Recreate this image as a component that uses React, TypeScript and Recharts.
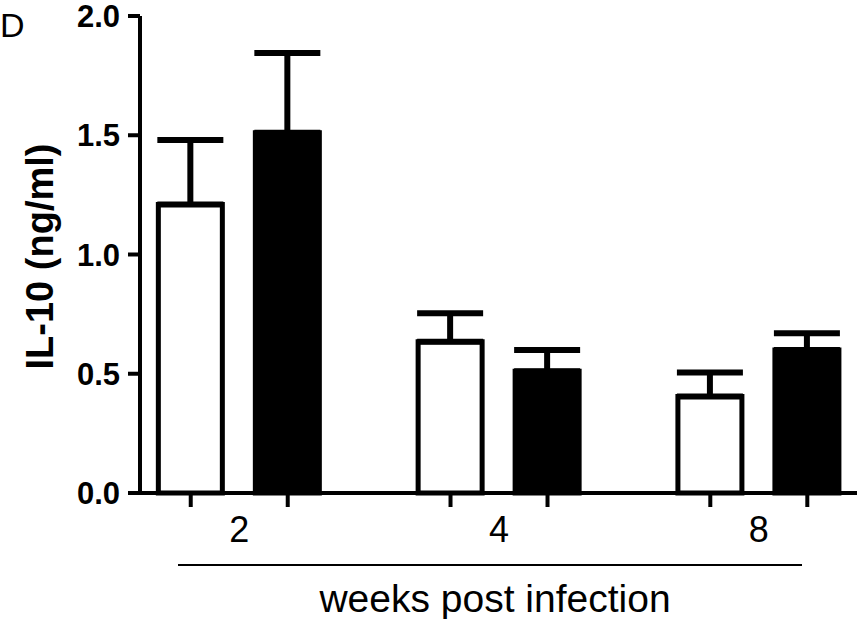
import { BarChart, Bar, XAxis, YAxis, ErrorBar } from "recharts";

const weeks = ["2", "4", "8"];
const controlMean = [1.21, 0.634, 0.405];
const controlErr = [0.27, 0.12, 0.1];
const treatedMean = [1.51, 0.51, 0.6];
const treatedErr = [0.335, 0.09, 0.07];
const yTicks = [0, 0.5, 1, 1.5, 2];

const data = weeks.map((w, i) => ({
  pos: i,
  week: w,
  control: controlMean[i],
  controlErr: [0, controlErr[i]],
  treated: treatedMean[i],
  treatedErr: [0, treatedErr[i]],
}));

const FONT = '"Liberation Sans", Arial, Helvetica, sans-serif';
const BAR_SIZE = 64;
const BAR_GAP = 33;

const WeekTick = ({ x, y, payload }: any) => {
  const half = (BAR_SIZE + BAR_GAP) / 2;
  return (
    <g>
      <line x1={x - half} x2={x - half} y1={y} y2={y + 14} stroke="#000" strokeWidth={4} />
      <line x1={x + half} x2={x + half} y1={y} y2={y + 14} stroke="#000" strokeWidth={4} />
      <text x={x} y={y + 49} textAnchor="middle" fontSize={36} fontFamily={FONT} fill="#000">
        {weeks[payload.value]}
      </text>
    </g>
  );
};

const XTitle = ({ viewBox }: any) => {
  const { x, y } = viewBox;
  return (
    <g>
      <line x1={x + 38} x2={x + 662} y1={y + 72} y2={y + 72} stroke="#000" strokeWidth={2} />
      <text x={x + 355} y={y + 119} textAnchor="middle" fontSize={39} fontFamily={FONT} fill="#000">
        weeks post infection
      </text>
    </g>
  );
};

const YTitle = ({ viewBox }: any) => {
  const { y, height } = viewBox;
  const cx = 53;
  const cy = y + height / 2 + 2;
  return (
    <text
      x={cx}
      y={cy}
      transform={`rotate(-90, ${cx}, ${cy})`}
      textAnchor="middle"
      fontSize={38}
      fontWeight={700}
      fontFamily={FONT}
      fill="#000"
    >
      IL-10 (ng/ml)
    </text>
  );
};

export default function App() {
  return (
    <div style={{ position: "absolute", left: 0, top: 0, background: "#fff" }}>
      <BarChart
        width={859}
        height={619}
        data={data}
        margin={{ top: 16, right: 2, left: 0, bottom: 0 }}
        barGap={BAR_GAP}
        accessibilityLayer={false}
      >
        <text x={0} y={37} fontSize={34} fontFamily={FONT} fill="#000">D</text>
        <XAxis
          dataKey="pos"
          type="number"
          domain={[-0.382, 2.378]}
          ticks={[0, 1, 2]}
          interval={0}
          height={126}
          axisLine={{ stroke: "#000", strokeWidth: 4 }}
          tickLine={false}
          tickSize={0}
          tickMargin={0}
          tick={<WeekTick />}
          label={<XTitle />}
        />
        <YAxis
          domain={[0, 2]}
          ticks={yTicks}
          interval={0}
          width={140}
          axisLine={{ stroke: "#000", strokeWidth: 4 }}
          tickLine={{ stroke: "#000", strokeWidth: 4 }}
          tickSize={12}
          tickMargin={8}
          tickFormatter={(v: number) => v.toFixed(1)}
          tick={{ fontSize: 31, fontWeight: 700, fill: "#000", fontFamily: FONT }}
          label={<YTitle />}
        />
        <Bar dataKey="control" fill="#fff" stroke="#000" strokeWidth={5} barSize={BAR_SIZE} isAnimationActive={false}>
          <ErrorBar dataKey="controlErr" width={33} stroke="#000" strokeWidth={6} direction="y" />
        </Bar>
        <Bar dataKey="treated" fill="#000" stroke="#000" strokeWidth={5} barSize={BAR_SIZE} isAnimationActive={false}>
          <ErrorBar dataKey="treatedErr" width={33} stroke="#000" strokeWidth={6} direction="y" />
        </Bar>
      </BarChart>
    </div>
  );
}
